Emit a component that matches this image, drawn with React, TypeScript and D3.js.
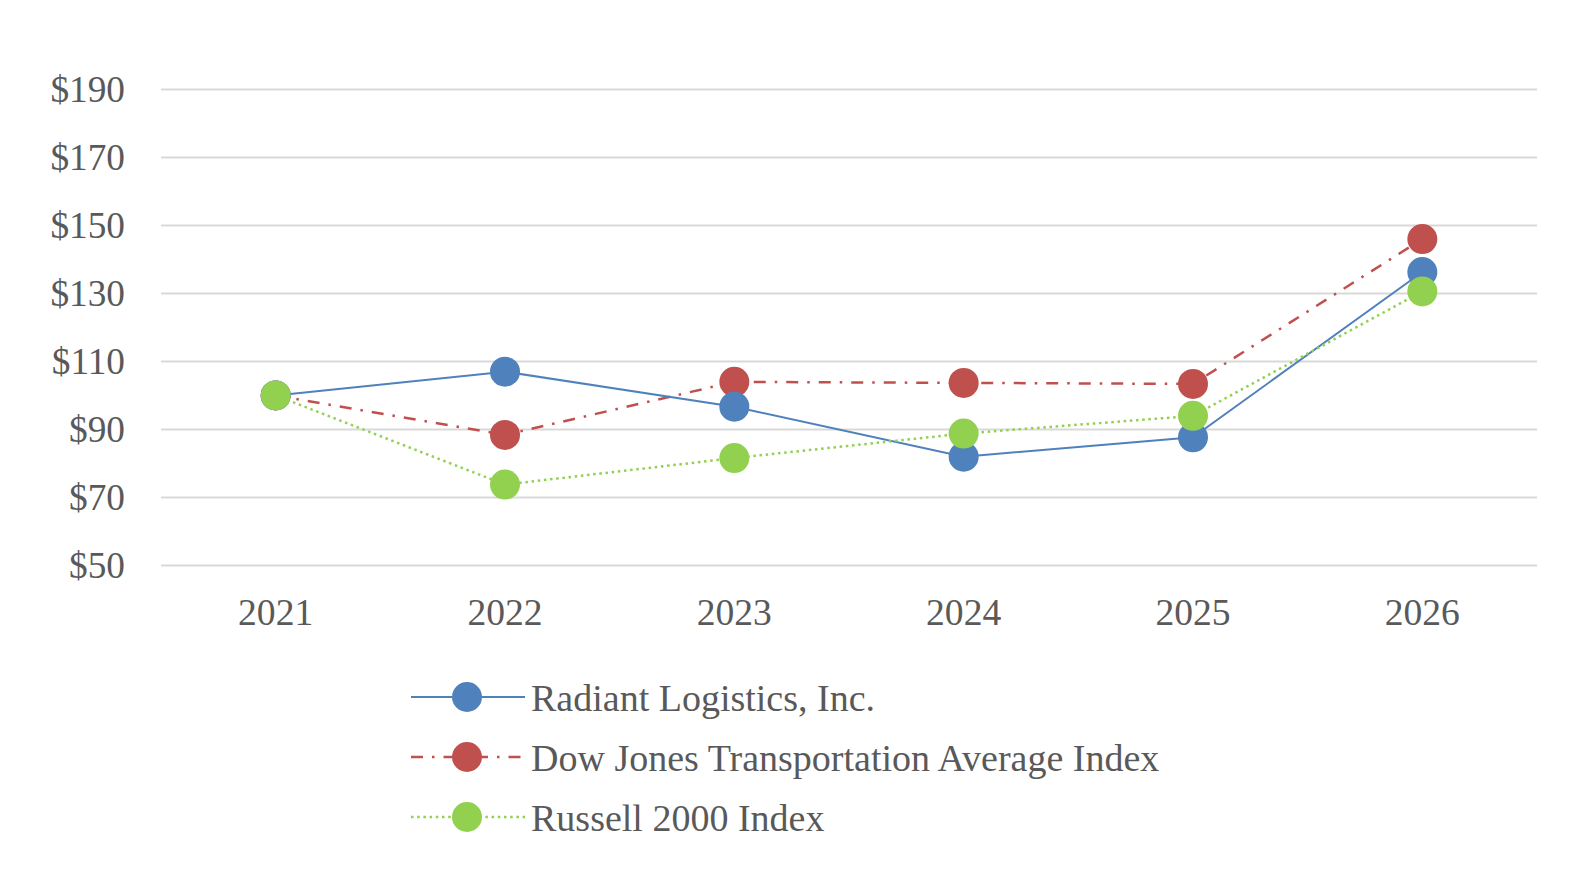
import React, { useEffect } from 'react';
import * as d3 from 'd3';

// values
const years = ['2021', '2022', '2023', '2024', '2025', '2026'];
const radiant = [100, 107, 96.7, 82, 87.7, 136.3];
const dowJones = [100, 88.4, 104, 103.7, 103.4, 146];
const russell = [100, 73.8, 81.6, 88.8, 94, 130.6];
const yTicks = [50, 70, 90, 110, 130, 150, 170, 190];

const seriesNames = ['Radiant Logistics, Inc.', 'Dow Jones Transportation Average Index', 'Russell 2000 Index'];

const WIDTH = 1575;
const HEIGHT = 879;
const FONT = '"Liberation Serif", "Times New Roman", serif';
const TEXT = '#595959';

const styles = [
  { color: '#4f81bd', width: 2, dash: undefined as string | undefined },
  { color: '#c0504d', width: 2.5, dash: '12 9 2.5 9' },
  { color: '#92d050', width: 2.5, dash: '2.5 3.7' },
];

export default function App() {
  useEffect(() => {
    document.body.style.margin = '0';
  }, []);

  const margin = { top: 89.4, right: 38, bottom: 313.5, left: 161 };

  const x = d3.scalePoint<string>()
    .domain(years)
    .range([margin.left, WIDTH - margin.right])
    .padding(0.5);

  const y = d3.scaleLinear()
    .domain([50, 190])
    .range([HEIGHT - margin.bottom, margin.top]);

  const line = d3.line<number>()
    .x((_, i) => x(years[i])!)
    .y(d => y(d));

  const data = [radiant, dowJones, russell];
  // red underneath, then blue, green on top (as in the reference)
  const drawOrder = [1, 0, 2];

  const legendTop = 697;
  const legendStep = 60;

  return (
    <svg width={WIDTH} height={HEIGHT} style={{ display: 'block', background: '#fff' }}>
      {/* grid + y labels */}
      {yTicks.map(t => (
        <g key={t}>
          <line x1={margin.left} x2={WIDTH - margin.right} y1={y(t)} y2={y(t)} stroke="#d9d9d9" strokeWidth={2} />
          <text x={125} y={y(t)} dy="0.34em" textAnchor="end" fontFamily={FONT} fontSize={37.3} fill={TEXT}>
            ${t}
          </text>
        </g>
      ))}

      {/* x labels */}
      {years.map(yr => (
        <text key={yr} x={x(yr)} y={625} textAnchor="middle" fontFamily={FONT} fontSize={37.6} fill={TEXT}>
          {yr}
        </text>
      ))}

      {/* series */}
      {drawOrder.map(si => (
        <g key={si}>
          <path
            d={line(data[si]) || ''}
            fill="none"
            stroke={styles[si].color}
            strokeWidth={styles[si].width}
            strokeDasharray={styles[si].dash}
          />
          {data[si].map((v, i) => (
            <circle key={i} cx={x(years[i])} cy={y(v)} r={15} fill={styles[si].color} />
          ))}
        </g>
      ))}

      {/* legend */}
      {seriesNames.map((name, i) => {
        const cy = legendTop + i * legendStep;
        return (
          <g key={name}>
            <line x1={411} x2={525} y1={cy} y2={cy} stroke={styles[i].color} strokeWidth={styles[i].width} strokeDasharray={styles[i].dash} />
            <circle cx={467} cy={cy} r={15} fill={styles[i].color} />
            <text x={531} y={cy} dy="0.36em" fontFamily={FONT} fontSize={38} fill={TEXT}>
              {name}
            </text>
          </g>
        );
      })}
    </svg>
  );
}
